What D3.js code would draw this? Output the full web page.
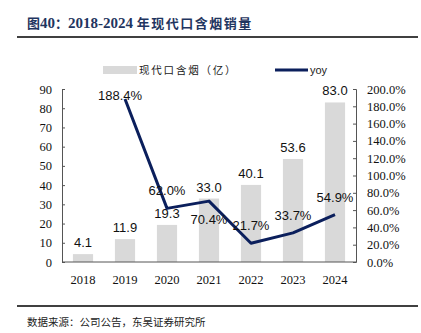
<!DOCTYPE html>
<html>
<head>
<meta charset="utf-8">
<script src="https://cdn.jsdelivr.net/npm/d3@7"></script>
<style>
  body { margin: 0; background: #fff; }
</style>
</head>
<body>
<svg width="421" height="333"></svg>
<script>
// 2018-2024 modern oral nicotine pouch sales
const years = ['2018', '2019', '2020', '2021', '2022', '2023', '2024'];
const sales = [4.1, 11.9, 19.3, 33.0, 40.1, 53.6, 83.0];      // 亿
const yoy = [null, 188.4, 62.0, 70.4, 21.7, 33.7, 54.9];      // %
const yoyPlace = [null, 'above', 'above', 'below', 'above', 'above', 'above'];
const leftTicks = [0, 10, 20, 30, 40, 50, 60, 70, 80, 90];
const rightTicks = [0, 20, 40, 60, 80, 100, 120, 140, 160, 180, 200];

var svg = d3.select("svg"),
    plotL = 62, plotR = 356, plotT = 89, plotB = 262;

var serif = "'Liberation Serif', 'Times New Roman', serif",
    sans = "'Liberation Sans', Arial, sans-serif",
    cjk = "'Noto Sans CJK SC', sans-serif";

// title and rules
var title = svg.append("text")
    .attr("x", 27).attr("y", 28)
    .attr("font-weight", "bold")
    .attr("fill", "#1f3560");
title.append("tspan")
    .attr("font-family", cjk).attr("font-size", "13px")
    .text("图");
title.append("tspan")
    .attr("font-family", serif).attr("font-size", "15px")
    .text("40");
title.append("tspan")
    .attr("font-family", cjk).attr("font-size", "13px")
    .text("：");
title.append("tspan")
    .attr("font-family", serif).attr("font-size", "15px")
    .text("2018-2024 ");
title.append("tspan")
    .attr("font-family", cjk).attr("font-size", "13px")
    .attr("letter-spacing", "1.5")
    .text("年现代口含烟销量");

svg.append("line")
    .attr("x1", 17).attr("x2", 418).attr("y1", 37).attr("y2", 37)
    .attr("stroke", "#000").attr("stroke-width", 1.3);

svg.append("line")
    .attr("x1", 17).attr("x2", 418).attr("y1", 306).attr("y2", 306)
    .attr("stroke", "#000").attr("stroke-width", 1.3);

svg.append("text")
    .attr("x", 27).attr("y", 326)
    .attr("font-family", cjk)
    .attr("font-size", "10.5px")
    .attr("fill", "#222")
    .text("数据来源：公司公告，东吴证券研究所");

var x = d3.scaleBand().domain(years).range([plotL, plotR])
    .paddingInner(0.52).paddingOuter(0.26);
var yL = d3.scaleLinear().domain([0, 90]).range([plotB, plotT]);
var yR = d3.scaleLinear().domain([0, 200]).range([plotB, plotT]);

// bars
svg.selectAll(".bar")
    .data(sales)
    .enter().append("rect")
    .attr("class", "bar")
    .attr("x", (d, i) => x(years[i]))
    .attr("y", d => yL(d))
    .attr("width", x.bandwidth())
    .attr("height", d => plotB - yL(d))
    .attr("fill", "#d9d9d9");

// axes
var axL = svg.append("g")
    .attr("transform", "translate(" + plotL + ",0)")
    .call(d3.axisLeft(yL).tickValues(leftTicks).tickSize(-3).tickPadding(10));
var axR = svg.append("g")
    .attr("transform", "translate(" + plotR + ",0)")
    .call(d3.axisRight(yR).tickValues(rightTicks).tickSize(-3).tickPadding(11)
        .tickFormat(d => d.toFixed(1) + "%"));
var axB = svg.append("g")
    .attr("transform", "translate(0," + plotB + ")")
    .call(d3.axisBottom(x).tickSize(0).tickPadding(13));

[axL, axR, axB].forEach(function(a) {
    a.selectAll("path").attr("stroke", "#555").attr("stroke-width", 1);
    a.selectAll("line").attr("stroke", "#555");
    a.selectAll("text")
        .attr("font-family", serif)
        .attr("font-size", "12.5px")
        .attr("fill", "#111");
});
axB.select("path").attr("d", "M" + plotL + ",0H" + plotR);

// bar value labels
svg.selectAll(".bar-label")
    .data(sales)
    .enter().append("text")
    .attr("class", "bar-label")
    .attr("x", (d, i) => x(years[i]) + x.bandwidth() / 2)
    .attr("y", d => yL(d) - 7)
    .attr("text-anchor", "middle")
    .attr("font-family", sans)
    .attr("font-size", "13px")
    .attr("fill", "#111")
    .text(d => d.toFixed(1));

// yoy line
var pts = yoy.map((v, i) => ({ year: years[i], v: v, place: yoyPlace[i] }))
    .filter(d => d.v != null);
var cx = d => x(d.year) + x.bandwidth() / 2;

svg.append("path")
    .datum(pts)
    .attr("fill", "none")
    .attr("stroke", "#0b1f5c")
    .attr("stroke-width", 3)
    .attr("stroke-linejoin", "round")
    .attr("d", d3.line().x(cx).y(d => yR(d.v)));

svg.selectAll(".yoy-label")
    .data(pts)
    .enter().append("text")
    .attr("class", "yoy-label")
    .attr("x", d => cx(d) - (d.year == '2019' ? 5 : 0))
    .attr("y", d => d.year == '2019' ? yR(d.v) + 1 : (d.place == 'below' ? yR(d.v) + 23 : yR(d.v) - 13))
    .attr("text-anchor", "middle")
    .attr("font-family", sans)
    .attr("font-size", "13px")
    .attr("fill", "#111")
    .text(d => d.v.toFixed(1) + "%");

// legend
var lg = svg.append("g");
lg.append("rect")
    .attr("x", 103).attr("y", 66).attr("width", 34).attr("height", 8)
    .attr("fill", "#d9d9d9");
lg.append("text")
    .attr("x", 139).attr("y", 74)
    .attr("font-family", cjk)
    .attr("font-size", "10.5px")
    .attr("letter-spacing", "1.8")
    .attr("fill", "#222")
    .text("现代口含烟（亿）");
lg.append("line")
    .attr("x1", 275).attr("x2", 308).attr("y1", 70).attr("y2", 70)
    .attr("stroke", "#0b1f5c").attr("stroke-width", 3);
lg.append("text")
    .attr("x", 310).attr("y", 74)
    .attr("font-family", sans)
    .attr("font-size", "11px")
    .attr("fill", "#222")
    .text("yoy");
</script>
</body>
</html>
